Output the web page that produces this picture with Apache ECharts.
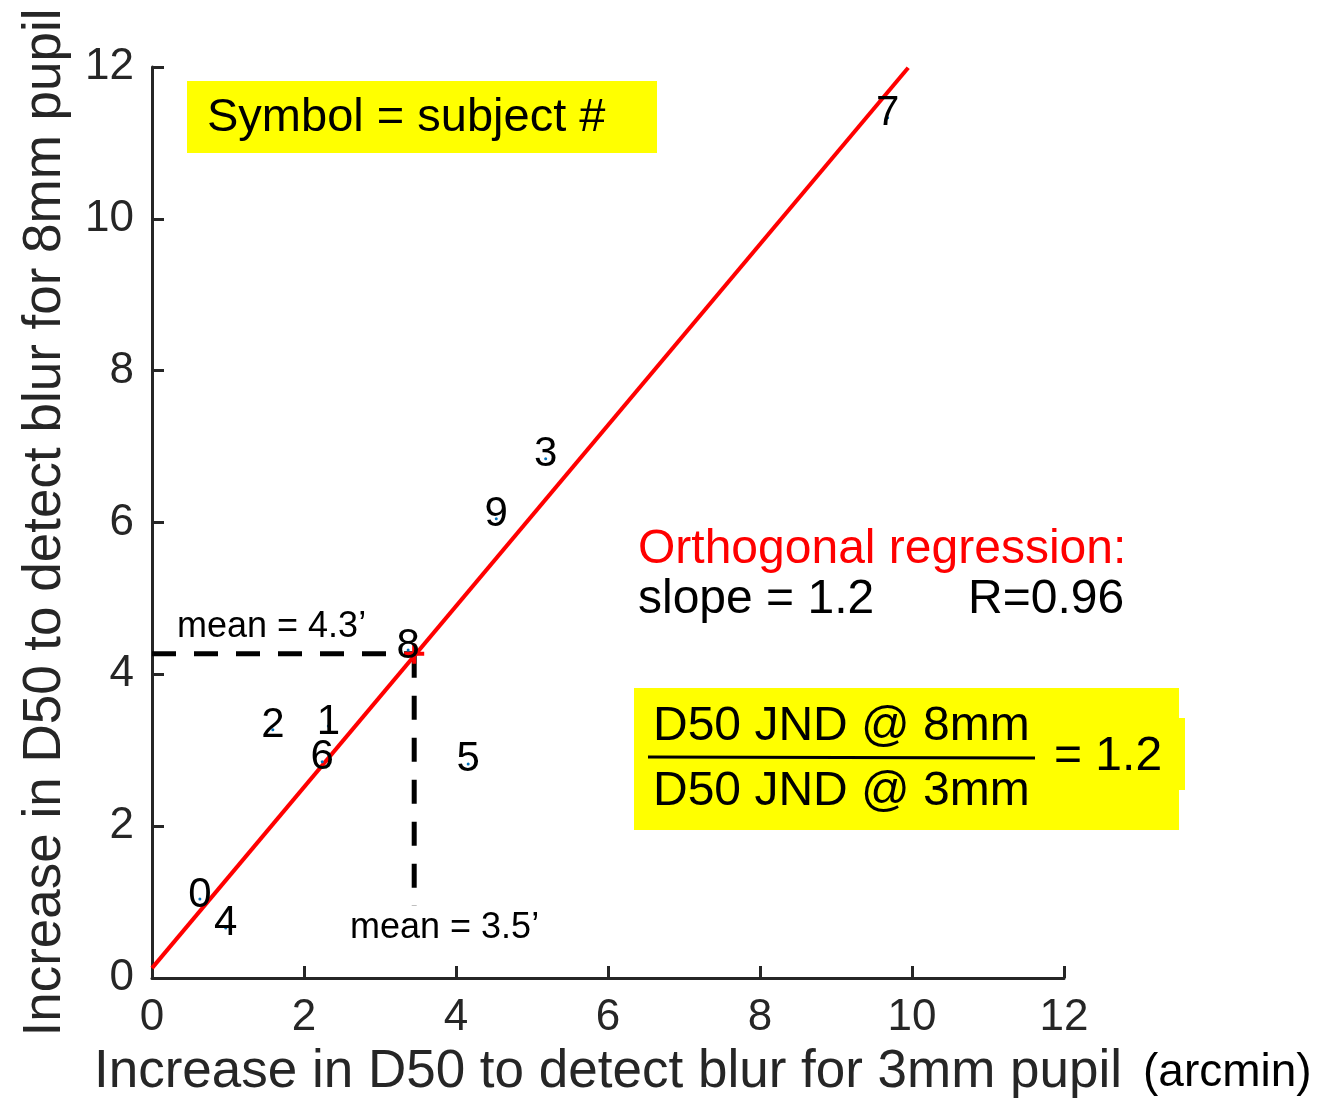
<!DOCTYPE html>
<html>
<head>
<meta charset="utf-8">
<script src="https://cdn.jsdelivr.net/npm/echarts@6/dist/echarts.min.js"></script>
<style>
html,body{margin:0;padding:0;background:#fff;}
#chart{width:1337px;height:1100px;}
</style>
</head>
<body>
<div id="chart"></div>
<script>
// ---- data ----
var subjectIds = ['0','4','2','1','6','8','5','9','3','7'];
var pupil3mm = [0.63, 0.97, 1.59, 2.32, 2.24, 3.37, 4.16, 4.53, 5.18, 9.68];
var pupil8mm = [1.04, 0.66, 3.27, 3.32, 2.85, 4.32, 2.82, 6.05, 6.84, 11.33];
var fitLineX = [0, 9.95];
var fitLineY = [0.13, 11.99];
var meanX = [3.45];
var meanY = [4.27];
var meanVLineBottom = [0.95];
var axisTicks = [0, 2, 4, 6, 8, 10, 12];

var FONT = "'Liberation Sans', Arial, Helvetica, sans-serif";
var AX = '#262626';

var scatterData = pupil3mm.map(function (x, i) { return [x, pupil8mm[i], subjectIds[i]]; });
var fitData = fitLineX.map(function (x, i) { return [x, fitLineY[i]]; });
var hDash = [[0, meanY[0]], [meanX[0], meanY[0]]];
var vDash = [[meanX[0], meanY[0]], [meanX[0], meanVLineBottom[0]]];

function axisCfg(name, gap) {
  return {
    type: 'value',
    min: axisTicks[0],
    max: axisTicks[axisTicks.length - 1],
    interval: axisTicks[1] - axisTicks[0],
    name: name,
    nameLocation: 'middle',
    nameGap: gap,
    nameTextStyle: { fontFamily: FONT, fontSize: 53, color: AX },
    axisLine: { show: true, onZero: false, lineStyle: { color: AX, width: 3 } },
    axisTick: { show: true, inside: true, length: 12, lineStyle: { color: AX, width: 3 } },
    axisLabel: { fontFamily: FONT, fontSize: 44, color: AX, margin: 18 },
    splitLine: { show: false }
  };
}

var chart = echarts.init(document.getElementById('chart'));
var xA = axisCfg('Increase in D50 to detect blur for 3mm pupil', 68);
var yA = axisCfg('Increase in D50 to detect blur for 8mm pupil', 80);
yA.nameRotate = 90;
yA.axisLabel.margin = 18;

chart.setOption({
  backgroundColor: '#ffffff',
  animation: false,
  grid: { left: 152, right: 273, top: 67, bottom: 122, containLabel: false, outerBoundsMode: 'none' },
  xAxis: xA,
  yAxis: yA,
  graphic: [
    { type: 'rect', shape: { x: 187, y: 81, width: 470, height: 72 }, style: { fill: '#ffff00' }, z: 1 },
    { type: 'text', x: 207, y: 118, style: { text: 'Symbol = subject #', font: '47px ' + FONT, fill: '#000', verticalAlign: 'middle' }, z: 2 },
    { type: 'text', x: 638, y: 550, style: { text: 'Orthogonal regression:', font: '48px ' + FONT, fill: '#ff0000', verticalAlign: 'middle' }, z: 2 },
    { type: 'text', x: 638, y: 600, style: { text: 'slope = 1.2', font: '48px ' + FONT, fill: '#000', verticalAlign: 'middle' }, z: 2 },
    { type: 'text', x: 968, y: 600, style: { text: 'R=0.96', font: '48px ' + FONT, fill: '#000', verticalAlign: 'middle' }, z: 2 },
    { type: 'rect', shape: { x: 634, y: 688, width: 545, height: 142 }, style: { fill: '#ffff00' }, z: 1 },
    { type: 'rect', shape: { x: 1178, y: 718, width: 7, height: 72 }, style: { fill: '#ffff00' }, z: 1 },
    { type: 'text', x: 653, y: 727, style: { text: 'D50 JND @ 8mm', font: '48px ' + FONT, fill: '#000', verticalAlign: 'middle' }, z: 2 },
    { type: 'line', shape: { x1: 648, y1: 757, x2: 1035, y2: 758 }, style: { stroke: '#000', lineWidth: 3 }, z: 2 },
    { type: 'text', x: 653, y: 792, style: { text: 'D50 JND @ 3mm', font: '48px ' + FONT, fill: '#000', verticalAlign: 'middle' }, z: 2 },
    { type: 'text', x: 1054, y: 757, style: { text: '= 1.2', font: '48px ' + FONT, fill: '#000', verticalAlign: 'middle' }, z: 2 },
    { type: 'text', x: 177, y: 627, style: { text: 'mean = 4.3\u2019', font: '36px ' + FONT, fill: '#000', verticalAlign: 'middle' }, z: 2 },
    { type: 'text', x: 350, y: 928, style: { text: 'mean = 3.5\u2019', font: '36px ' + FONT, fill: '#000', verticalAlign: 'middle' }, z: 2 },
    { type: 'text', x: 1143, y: 1073, style: { text: '(arcmin)', font: '46px ' + FONT, fill: '#000', verticalAlign: 'middle' }, z: 2 }
  ],
  series: [
    {
      type: 'line', data: hDash, showSymbol: false, symbol: 'none', silent: true, z: 3,
      lineStyle: { color: '#000', width: 5, type: [24, 18] }
    },
    {
      type: 'line', data: vDash, showSymbol: false, symbol: 'none', silent: true, z: 3,
      lineStyle: { color: '#000', width: 5, type: [24, 18] }
    },
    {
      type: 'line', data: fitData, showSymbol: false, symbol: 'none', silent: true, z: 4,
      lineStyle: { color: '#ff0000', width: 4 }
    },
    {
      type: 'scatter', data: [[meanX[0], meanY[0]]], silent: true, z: 5,
      symbol: 'path://M0,8L20,8L20,12L0,12Z M8,0L12,0L12,20L8,20Z',
      symbolSize: 20,
      itemStyle: { color: '#ff0000', opacity: 1 }
    },
    {
      type: 'scatter', data: scatterData, silent: true, z: 6,
      symbol: 'circle', symbolSize: 3,
      itemStyle: { color: '#0072BD', opacity: 1 },
      label: {
        show: true, position: 'inside', offset: [0, -4],
        formatter: function (p) { return p.data[2]; },
        fontFamily: FONT, fontSize: 42, color: '#000', opacity: 1,
        textBorderWidth: 0, textBorderColor: 'transparent'
      }
    }
  ]
});
</script>
</body>
</html>
